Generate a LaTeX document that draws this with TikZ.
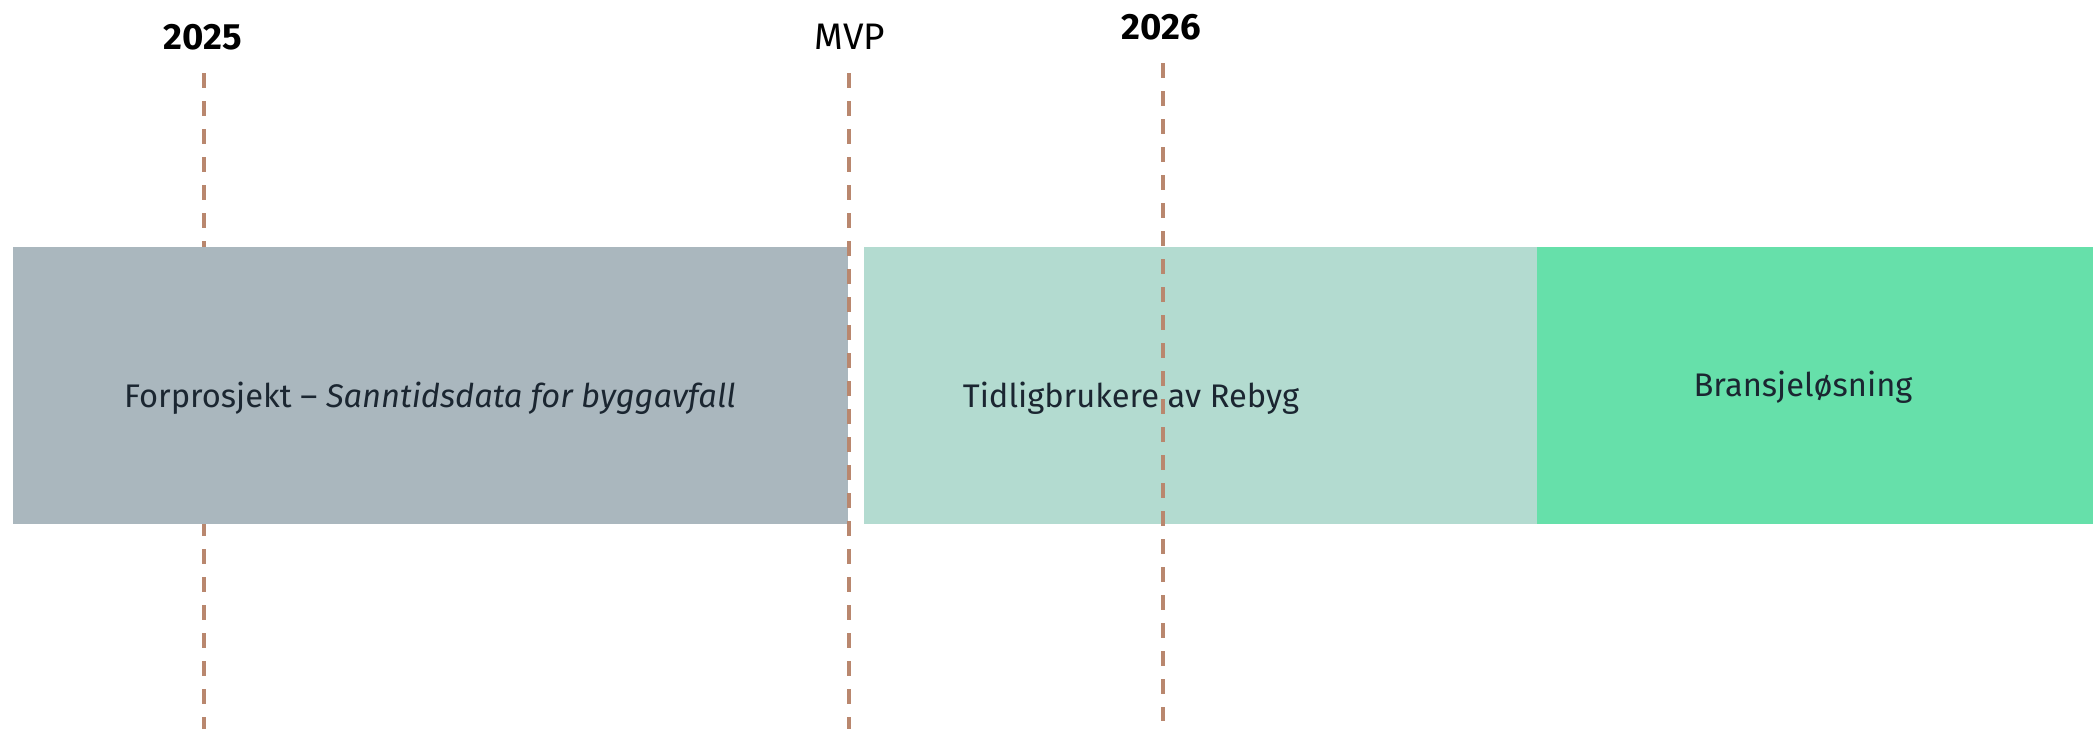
\documentclass[tikz,border=0pt]{standalone}
\usepackage{fontspec}
\setmainfont{Fira Sans}
\usetikzlibrary{positioning}
\definecolor{forgray}{RGB}{170,183,190}
\definecolor{earlyteal}{RGB}{179,219,208}
\definecolor{branchgreen}{RGB}{102,224,170}
\definecolor{milebrown}{RGB}{185,135,110}
\definecolor{boxtext}{RGB}{27,38,49}

\begin{document}
\begin{tikzpicture}[
  milestone/.style={milebrown,line width=1.15pt,dash pattern=on 0.15cm off 0.13cm},
  phasetext/.style={font=\fontsize{9.3}{11}\selectfont,text=boxtext,inner sep=0pt},
  yeartext/.style={font=\fontsize{10.4}{12}\selectfont\bfseries,text=black,inner sep=0pt}
]
\useasboundingbox[fill=white] (0,0) rectangle (20.93,7.29);

% line behind the first phase
\coordinate (t2025) at (2.04,6.56);
\coordinate (b2025) at (2.04,0);
\draw[milestone] (t2025) -- (b2025);

% phases
\draw[fill=forgray,draw=none] (0.13,2.05) rectangle (8.48,4.82);
\draw[fill=earlyteal,draw=none] (8.64,2.05) rectangle (15.37,4.82);
\draw[fill=branchgreen,draw=none] (15.37,2.05) rectangle (20.93,4.82);

\node[phasetext] (forprosjekt) at (4.30,3.31) {Forprosjekt -- \textit{Sanntidsdata for byggavfall}};
\node[phasetext] (tidlig) at (11.31,3.31) {Tidligbrukere av Rebyg};
\node[phasetext] (bransje) at (18.03,3.42) {Bransjeløsning};

% lines on top
\coordinate (tmvp) at (8.49,6.56);
\coordinate (bmvp) at (8.49,0);
\draw[milestone] (tmvp) -- (bmvp);
\coordinate (t2026) at (11.63,6.66);
\coordinate (b2026) at (11.63,0.08);
\draw[milestone] (t2026) -- (b2026);

% labels
\node[yeartext] (y2025) at (2.03,6.92) {2025};
\node[font=\fontsize{10.5}{12}\selectfont,inner sep=0pt] (mvp) at (8.50,6.92) {MVP};
\node[yeartext] (y2026) at (11.61,7.02) {2026};

\end{tikzpicture}
\end{document}
